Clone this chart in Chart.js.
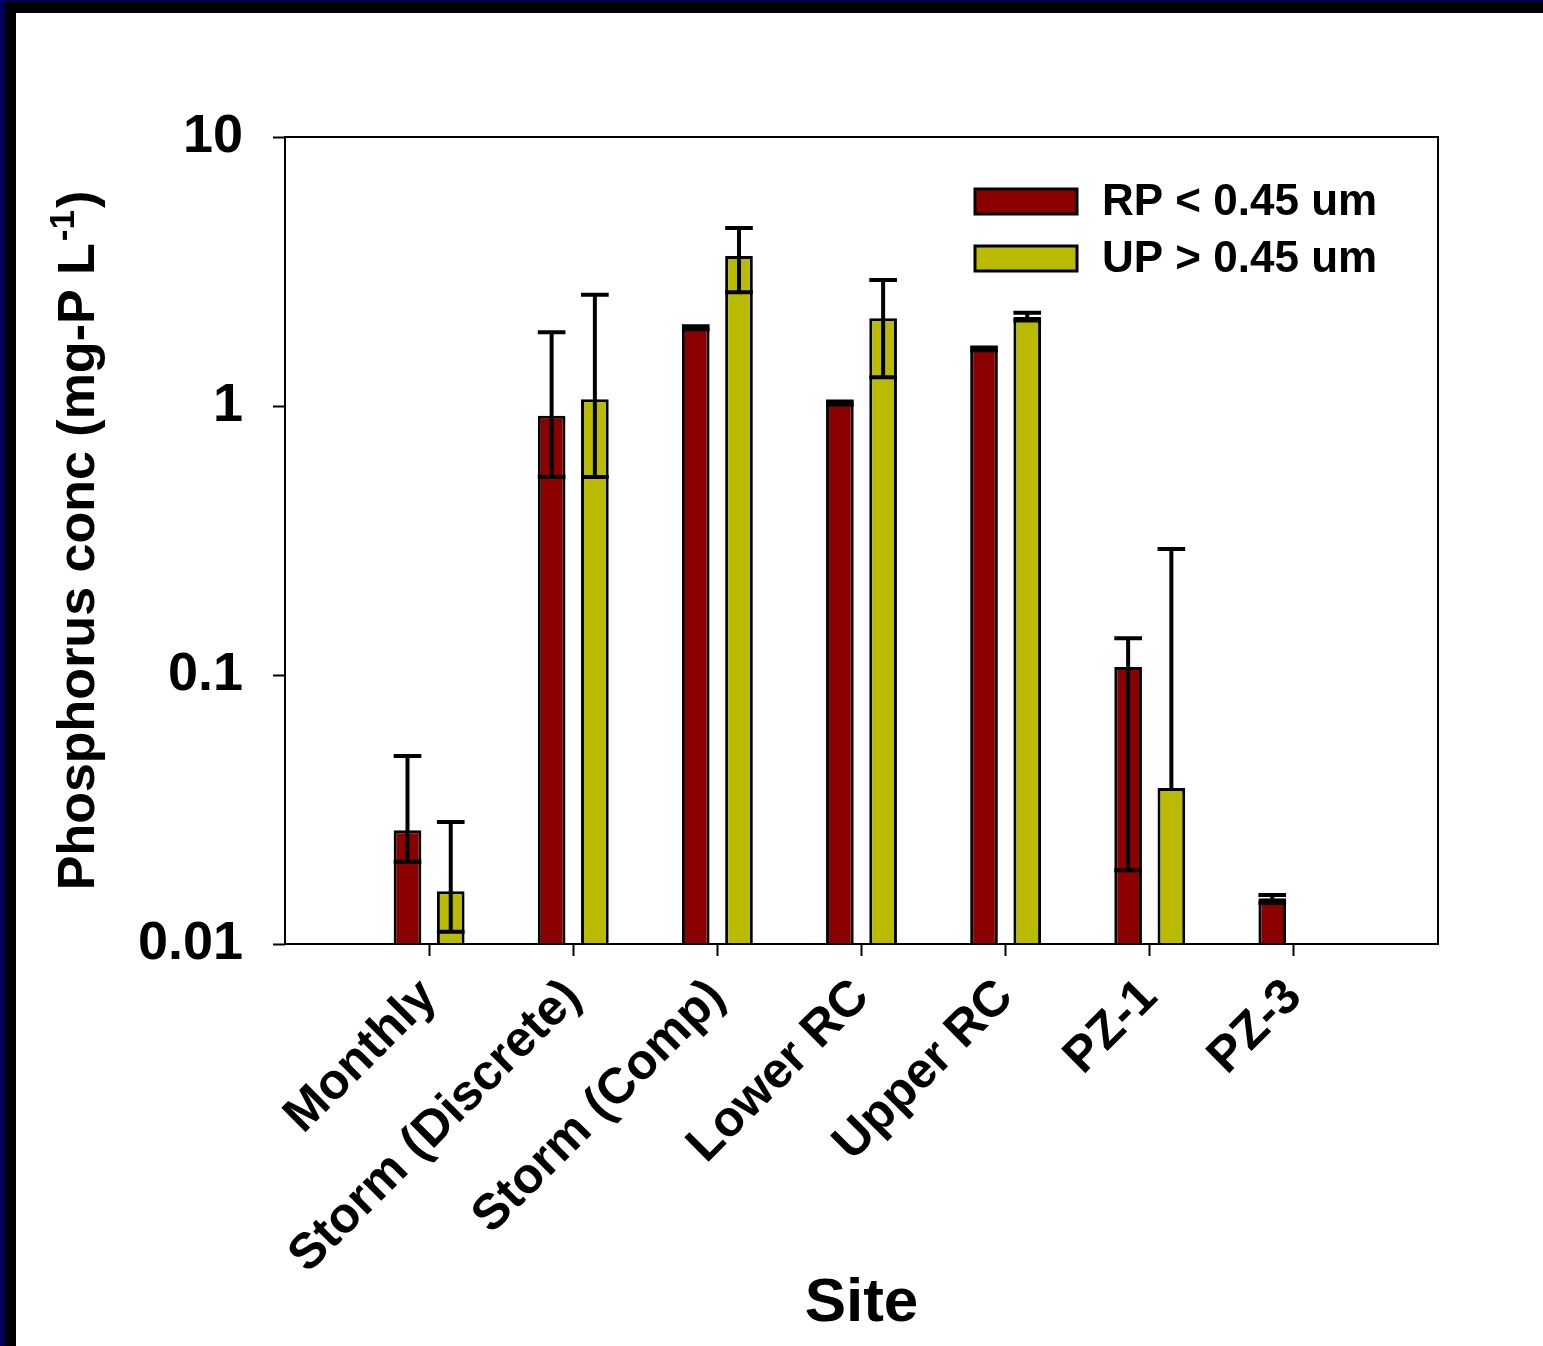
<!DOCTYPE html>
<html>
<head>
<meta charset="utf-8">
<title>Phosphorus conc by site</title>
<script src="https://cdn.jsdelivr.net/npm/chart.js@4"></script>
<style>
  html, body { margin: 0; padding: 0; background: #fff; }
  body { width: 1543px; height: 1346px; overflow: hidden; position: relative; }
  .frame { position: absolute; left: 0; top: 0; width: 1543px; height: 1346px; box-sizing: border-box;
           border-top: 2px solid #00005a; border-left: 5px solid #00005a; }
  .frame-inner { width: 100%; height: 100%; box-sizing: border-box;
                 border-top: 11px solid #000; border-left: 11px solid #000; }
  #chart { position: absolute; left: 16px; top: 13px; }
</style>
</head>
<body>
<div class="frame"><div class="frame-inner"></div></div>
<canvas id="chart" width="1527" height="1333"></canvas>
<script>
// values (mg-P/L)
const sites = ['Monthly', 'Storm (Discrete)', 'Storm (Comp)', 'Lower RC', 'Upper RC', 'PZ-1', 'PZ-3'];
const rpMean = [0.0265, 0.92, 1.96, 1.03, 1.63, 0.107, 0.0148];
const rpLow  = [0.0202, 0.545, 1.93, 1.01, 1.61, 0.0188, 0.0142];
const rpHigh = [0.050, 1.88, 1.98, 1.04, 1.65, 0.137, 0.0152];
const upMean = [0.0157, 1.06, 3.61, 2.12, 2.14, 0.038, null];
const upLow  = [0.0111, 0.545, 2.65, 1.28, 2.08, null, null];
const upHigh = [0.0284, 2.59, 4.59, 2.94, 2.22, 0.294, null];
const yTicks = [0.01, 0.1, 1, 10];

const FONT = "'Liberation Sans', Arial, Helvetica, sans-serif";
Chart.defaults.font.family = FONT;
Chart.defaults.font.weight = 'bold';
Chart.defaults.color = '#000';

// empty slot on each side so the 7 sites sit at 1..7 of an 8-wide axis
const pad = arr => [null, ...arr, null];
const labels = ['', ...sites, ''];

const plotBox = {
  id: 'plotBox',
  afterDatasetsDraw(chart) {
    const { ctx, chartArea: a } = chart;
    ctx.save();
    ctx.lineWidth = 2;
    ctx.strokeStyle = '#000';
    ctx.strokeRect(a.left, a.top, a.right - a.left, a.bottom - a.top);
    ctx.restore();
  }
};

const errorBars = {
  id: 'errorBars',
  afterDatasetsDraw(chart) {
    const ctx = chart.ctx;
    const y = chart.scales.y;
    ctx.save();
    ctx.strokeStyle = '#000';
    ctx.lineWidth = 4;
    chart.data.datasets.forEach((ds, di) => {
      const meta = chart.getDatasetMeta(di);
      meta.data.forEach((bar, i) => {
        const v = ds.data[i];
        const hi = ds.errHigh[i];
        if (v == null || hi == null) return;
        const lo = ds.errLow[i];
        const yHi = y.getPixelForValue(hi);
        const yLo = lo == null ? bar.y : y.getPixelForValue(lo);
        const half = bar.width / 2;
        ctx.beginPath();
        ctx.moveTo(bar.x, yLo);
        ctx.lineTo(bar.x, yHi);
        ctx.moveTo(bar.x - half, yHi);
        ctx.lineTo(bar.x + half, yHi);
        if (lo != null) {
          ctx.moveTo(bar.x - half, yLo);
          ctx.lineTo(bar.x + half, yLo);
        }
        ctx.stroke();
      });
    });
    ctx.restore();
  }
};

const legendBox = {
  id: 'legendBox',
  afterDraw(chart) {
    const { ctx, chartArea } = chart;
    const x0 = chartArea.right - 463;
    const y0 = chartArea.top + 52;
    ctx.save();
    ctx.font = 'bold 44px ' + FONT;
    ctx.textBaseline = 'middle';
    chart.data.datasets.forEach((ds, i) => {
      const yy = y0 + i * 57;
      ctx.fillStyle = ds.backgroundColor;
      ctx.fillRect(x0, yy, 102, 25);
      ctx.lineWidth = 3;
      ctx.strokeStyle = '#000';
      ctx.strokeRect(x0, yy, 102, 25);
      ctx.fillStyle = '#000';
      ctx.fillText(ds.label, x0 + 127, yy + 14);
    });
    ctx.restore();
  }
};

// y title drawn by hand for the superscript
const yTitle = {
  id: 'yTitle',
  afterDraw(chart) {
    const { ctx, chartArea } = chart;
    const main = 'Phosphorus conc (mg-P L', sup = '-1', tail = ')';
    const fMain = 'bold 52px ' + FONT, fSup = 'bold 35px ' + FONT;
    ctx.save();
    ctx.translate(78, (chartArea.top + chartArea.bottom) / 2);
    ctx.rotate(-Math.PI / 2);
    ctx.fillStyle = '#000';
    ctx.textBaseline = 'alphabetic';
    ctx.font = fMain;
    const wMain = ctx.measureText(main).width;
    const wTail = ctx.measureText(tail).width;
    ctx.font = fSup;
    const wSup = ctx.measureText(sup).width;
    let x = -(wMain + wSup + wTail + 4) / 2;
    ctx.font = fMain;
    ctx.fillText(main, x, 0);
    x += wMain + 2;
    ctx.font = fSup;
    ctx.fillText(sup, x, -20);
    x += wSup + 2;
    ctx.font = fMain;
    ctx.fillText(tail, x, 0);
    ctx.restore();
  }
};

new Chart(document.getElementById('chart'), {
  type: 'bar',
  data: {
    labels: labels,
    datasets: [
      {
        label: 'RP < 0.45 um',
        data: pad(rpMean),
        errLow: pad(rpLow),
        errHigh: pad(rpHigh),
        backgroundColor: '#8c0000',
        borderColor: '#000',
        borderWidth: 3
      },
      {
        label: 'UP > 0.45 um',
        data: pad(upMean),
        errLow: pad(upLow),
        errHigh: pad(upHigh),
        backgroundColor: '#baba00',
        borderColor: '#000',
        borderWidth: 3
      }
    ]
  },
  options: {
    responsive: false,
    devicePixelRatio: 1,
    animation: false,
    categoryPercentage: 0.6,
    barPercentage: 0.64,
    layout: { padding: { top: 124, right: 105, left: 0, bottom: 0 } },
    plugins: {
      legend: { display: false },
      tooltip: { enabled: false }
    },
    scales: {
      x: {
        offset: false,
        afterFit: s => { s.height = 402; },
        grid: {
          offset: false,
          drawOnChartArea: false,
          tickLength: 12,
          tickWidth: 2,
          tickColor: c => (c.index === 0 || c.index === labels.length - 1) ? 'rgba(0,0,0,0)' : '#000'
        },
        border: { display: false },
        ticks: {
          color: '#000',
          font: { size: 50, weight: 'bold' },
          minRotation: 45,
          maxRotation: 45,
          autoSkip: false,
          padding: 12
        },
        title: {
          display: true,
          text: 'Site',
          color: '#000',
          font: { size: 62, weight: 'bold', lineHeight: 1 },
          padding: { top: 0, bottom: 11 }
        }
      },
      y: {
        type: 'logarithmic',
        min: 0.01,
        max: 10,
        afterBuildTicks: s => { s.ticks = yTicks.map(v => ({ value: v })); },
        afterFit: s => { s.width = 269; },
        grid: { drawOnChartArea: false, tickLength: 12, tickWidth: 2, tickColor: '#000' },
        border: { display: false },
        ticks: {
          color: '#000',
          font: { size: 54, weight: 'bold' },
          padding: 30,
          callback: v => String(v)
        }
      }
    }
  },
  plugins: [plotBox, errorBars, legendBox, yTitle]
});
</script>
</body>
</html>
